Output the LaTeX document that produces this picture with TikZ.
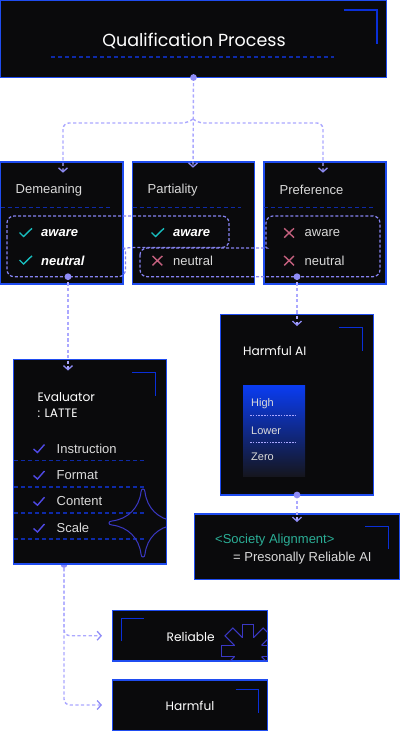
\documentclass[tikz,border=0pt]{standalone}
\usepackage{fontspec}
\setmainfont{Liberation Sans}
\newfontfamily\geo{Poppins}
\usetikzlibrary{arrows.meta}
\definecolor{boxfill}{HTML}{0A0A0C}
\definecolor{boxline}{HTML}{1F4CF0}
\definecolor{corner}{HTML}{0A2FD8}
\definecolor{sep}{HTML}{0E2AA8}
\definecolor{conn}{HTML}{ABA8FF}
\definecolor{dotc}{HTML}{8F8CF7}
\definecolor{grp}{HTML}{8582F0}
\definecolor{tick}{HTML}{18BDBE}
\definecolor{cross}{HTML}{C4607E}
\definecolor{vio}{HTML}{4F49E6}
\definecolor{txt}{HTML}{DADADA}
\definecolor{soc}{HTML}{2BAE96}
\definecolor{gradtop}{HTML}{0A3CF2}
\definecolor{gradbot}{HTML}{15161F}
\definecolor{starc}{HTML}{3A38C4}
\tikzset{
  x=1pt,y=-1pt,
  box/.style={draw=boxline,fill=boxfill,line width=1.5pt,inner sep=0,outer sep=0},
  cornermark/.style={draw=corner,line width=1.3pt},
  sepline/.style={draw=sep,line width=1.1pt,dash pattern=on 4pt off 3pt},
  link/.style={draw=conn,line width=1.4pt,dash pattern=on 3.2pt off 2.4pt,rounded corners=6pt},
  tipped/.style={link,-{Straight Barb[length=4pt,width=9pt,line width=1.3pt,color=dotc]}},
  group/.style={draw=grp,line width=1.25pt,dash pattern=on 3pt off 2pt,rounded corners=7pt},
  dot/.style={circle,fill=dotc,inner sep=0,minimum size=6.8pt},
  body/.style={text=txt,inner sep=0,anchor=west,font=\fontsize{13}{15}\selectfont},
  item/.style={text=txt,inner sep=0,anchor=west,font=\fontsize{13}{15}\selectfont},
  strong/.style={text=white,inner sep=0,anchor=west,font=\fontsize{13}{15}\selectfont\bfseries\itshape},
  head/.style={text=white,inner sep=0,font=\geo\fontsize{12.2}{15}\selectfont},
  tickmark/.style={draw=tick,line width=1.4pt},
  crossmark/.style={draw=cross,line width=1.4pt},
  viotick/.style={draw=vio,line width=1.4pt},
  scale label/.style={text=txt,inner sep=0,anchor=west,font=\fontsize{11}{13}\selectfont},
  starline/.style={draw=starc,line width=1pt},
}
\begin{document}
\begin{tikzpicture}
\useasboundingbox (0,0) rectangle (400,731);
% evaluator dot sits behind its box
\node[dot] (devalu) at (64,564.5) {};
% boxes
\node[box,minimum width=386pt,minimum height=77pt] (title) at (193.5,39) {};
\node[box,minimum width=122.5pt,minimum height=122pt] (dem) at (61.7,223) {};
\node[box,minimum width=122pt,minimum height=122pt] (par) at (193.5,223) {};
\node[box,minimum width=122pt,minimum height=122pt] (pre) at (325,223) {};
\node[box,minimum width=153pt,minimum height=180.5pt] (harm) at (297,404.7) {};
\node[box,minimum width=205pt,minimum height=65.7pt] (soc) at (297,546.8) {};
\node[box,minimum width=153pt,minimum height=204.5pt] (eval) at (90,461.7) {};
\node[box,minimum width=155pt,minimum height=50.3pt] (rel) at (189.8,635.8) {};
\node[box,minimum width=155pt,minimum height=50.3pt] (hrm) at (189.8,705.2) {};
% corner marks
\draw[cornermark] (343.5,10)--(377,10)--(377,44);
\draw[cornermark] (132,372.3)--(155.5,372.3)--(155.5,395.6);
\draw[cornermark] (339.3,327.3)--(362.7,327.3)--(362.7,350.7);
\draw[cornermark] (365.3,526.3)--(388.7,526.3)--(388.7,549.3);
\draw[cornermark] (121.7,641)--(121.7,618.7)--(144,618.7);
\draw[cornermark] (235.7,689.3)--(258.7,689.3)--(258.7,712.7);
% separators
\draw[sepline] (51,57)--(334,57);
\draw[sepline] (0.5,207.3)--(110,207.3);
\draw[sepline] (132.5,207.3)--(241,207.3);
\draw[sepline] (264,207.3)--(373,207.3);
\foreach \yy in {460.7,487,513,539}
  \draw[sepline] (14,\yy)--(144,\yy);
% star and gear
\begin{scope}
\clip (eval.south west) rectangle (eval.north east);
\foreach \a in {0,90,180,270}
  \draw[starline,rotate around={\a:(143,523)}] (141,492) .. controls (141,488) and (145,488) .. (145,492) .. controls (147,508) and (158,519) .. (174,521);
\end{scope}
\begin{scope}
\clip (rel.south west) rectangle (rel.north east);
\foreach \a in {0,45,...,315}
  \draw[starline,shift={(248,651)},rotate=\a] (-5.6,-13.5)--(-5.6,-27)--(5.6,-27)--(5.6,-13.5);
\end{scope}
% title
\node[text=white,inner sep=0,font=\geo\fontsize{17.5}{20}\selectfont] (ttext) at (194,40.5) {Qualification Process};
% category labels
\node[body] (tdem) at (15.5,189.7) {Demeaning};
\node[body] (tpar) at (147.5,189.7) {Partiality};
\node[body] (tpre) at (279.5,189.7) {Preference};
\node[strong] (a1) at (41,233.5) {aware};
\node[strong] (n1) at (41,261) {neutral};
\node[strong] (a2) at (173,233.5) {aware};
\node[body] (n2) at (173,261) {neutral};
\node[body] (a3) at (304.5,233.5) {aware};
\node[body] (n3) at (304.5,261) {neutral};
% ticks and crosses
\draw[tickmark] (19.5,232.5)--(23.5,236.5)--(32,228.3);
\draw[tickmark] (19.5,260)--(23.5,264)--(32,255.8);
\draw[tickmark] (151.5,232.5)--(155.5,236.5)--(164,228.3);
\draw[crossmark] (152.5,256)--(162.3,265.3) (162.3,256)--(152.5,265.3);
\draw[crossmark] (284.2,228.3)--(294,237.6) (294,228.3)--(284.2,237.6);
\draw[crossmark] (284.2,256)--(294,265.3) (294,256)--(284.2,265.3);
% groups
\draw[group] (7,245) -- (7,216) -- (229,216) -- (229,247.5) -- (131,247.5) .. controls (126,248) and (125.5,252) .. (125.5,258) -- (125.5,276.7) -- (7,276.7) -- cycle;
\draw[group] (140,262) -- (140,248) -- (260,248) .. controls (265,248) and (266,244) .. (266,238) -- (266,216) -- (380,216) -- (380,276.7) -- (140,276.7) -- cycle;
% evaluator
\node[head,anchor=west] (tev1) at (37.5,397) {Evaluator};
\node[head,anchor=west] (tev2) at (37.5,413.5) {: LATTE};
\node[item] (i1) at (56.5,448.5) {Instruction};
\node[item] (i2) at (56.5,475) {Format};
\node[item] (i3) at (56.5,501) {Content};
\node[item] (i4) at (56.5,528) {Scale};
\foreach \yy in {448.5,475,501.2,528}
  \draw[viotick] (33.5,\yy+0.5)--(37.5,\yy+4)--(44.5,\yy-4);
% harmful AI
\node[head,anchor=west] (tha) at (243,351) {Harmful AI};
\node[inner sep=0,minimum width=62pt,minimum height=91pt,top color=gradtop,bottom color=gradbot] (grad) at (274,430.5) {};
\node[scale label] (lh) at (251,403.5) {High};
\node[scale label] (ll) at (251,430.5) {Lower};
\node[scale label] (lz) at (251,457) {Zero};
\draw[conn,line width=1pt,dash pattern=on 1.6pt off 1.2pt] (250,415)--(297,415);
\draw[conn,line width=1pt,dash pattern=on 1.6pt off 1.2pt] (250,442)--(297,442);
% society
\node[text=soc,inner sep=0,anchor=west,font=\fontsize{13}{15}\selectfont] (tsoc) at (215,540) {<Society Alignment>};
\node[item] (tsoc2) at (233,558) {= Presonally Reliable AI};
% end boxes
\node[head] (trel) at (190.7,636.5) {Reliable};
\node[head] (thrm) at (190,706) {Harmful};
% connectors
\coordinate (e1) at (63,172.7);
\coordinate (e2) at (193,167.7);
\coordinate (e3) at (323,172.7);
\coordinate (bus) at (193,123);
\coordinate (peak) at (193,119);
\coordinate (g1) at (68,276.7);
\coordinate (g2) at (297,276.7);
\coordinate (e4) at (68,370.5);
\coordinate (e5) at (297,326);
\coordinate (e6) at (297,522);
\coordinate (e7) at (102,635.7);
\coordinate (e8) at (102,705);
\draw[tipped] (title.south) -- (e2);
\draw[tipped] (peak) -- (188,123) -| (e1);
\draw[tipped] (peak) -- (198,123) -| (e3);
\draw[tipped] (g1) -- (e4);
\draw[tipped] (g2) -- (e5);
\draw[tipped] (harm.south) -- (e6);
\draw[tipped] (devalu.south) |- (e7);
\draw[tipped] (devalu.south) |- (e8);
\node[dot] (dtitle) at (title.south) {};
\node[dot] (dg1) at (g1) {};
\node[dot] (dg2) at (g2) {};
\node[dot] (dharm) at (harm.south) {};
\end{tikzpicture}
\end{document}
